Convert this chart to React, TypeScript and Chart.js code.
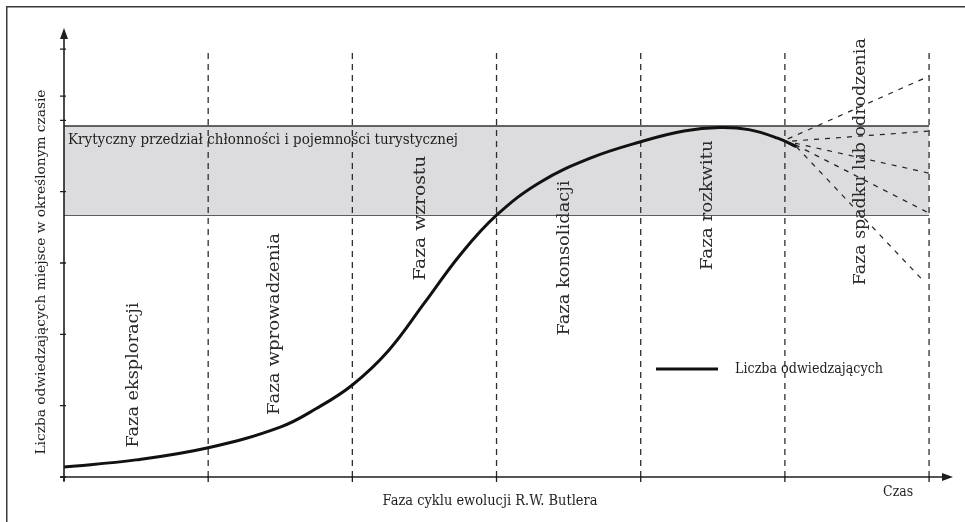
import React, { useEffect, useRef } from "react";
import { Chart, registerables } from "chart.js";

Chart.register(...registerables);

// ---- data ----
const phaseNames = [
  "Faza eksploracji",
  "Faza wprowadzenia",
  "Faza wzrostu",
  "Faza konsolidacji",
  "Faza rozkwitu",
  "Faza spadku lub odrodzenia",
];
const phaseBoundaries = [1, 2, 3, 4, 5, 6];
const yTicks = [0, 1, 2, 3, 4, 5, 5.34, 6];
const xTicks = [0, 1, 2, 3, 4, 5, 6];
const curveX = [0, 0.5, 1.0, 1.5, 1.75, 2.0, 2.25, 2.5, 2.75, 3.0, 3.3, 3.65, 4.0, 4.3, 4.55, 4.75, 4.95, 5.08];
const curveY = [0.14, 0.24, 0.41, 0.7, 0.96, 1.29, 1.77, 2.44, 3.12, 3.67, 4.13, 4.47, 4.7, 4.85, 4.9, 4.87, 4.75, 4.63];
const bandTop = 4.92;
const bandBottom = 3.67;
const fanStartX = [5.02, 5.05, 5.07, 5.07, 5.08];
const fanStartY = [4.74, 4.71, 4.68, 4.66, 4.63];
const fanEndX = [6.0, 6.0, 6.0, 6.0, 5.97];
const fanEndY = [5.62, 4.85, 4.26, 3.7, 2.73];
const bandLabel = "Krytyczny przedział chłonności i pojemności turystycznej";
const yTitle = "Liczba odwiedzających miejsce w określonym czasie";
const xTitle = "Faza cyklu ewolucji R.W. Butlera";
const xEndLabel = "Czas";
const seriesName = "Liczba odwiedzających";

// ---- layout (label anchors in data units, lengths in px) ----
const phaseLabelPos = [
  { x: 0.486, y: 1.43, len: 145 },
  { x: 1.464, y: 2.145, len: 182 },
  { x: 2.476, y: 3.63, len: 125 },
  { x: 3.475, y: 3.07, len: 155 },
  { x: 4.467, y: 3.81, len: 130 },
  { x: 5.528, y: 4.42, len: 247 },
];

const INK = "#1e1e1e";
const SERIF = '"DejaVu Serif", "Liberation Serif", serif';

function fitText(
  ctx: CanvasRenderingContext2D,
  text: string,
  x: number,
  y: number,
  width: number,
  size: number,
  align: CanvasTextAlign,
  rot: number,
  color = INK
) {
  ctx.save();
  ctx.font = `${size}px ${SERIF}`;
  const w = ctx.measureText(text).width;
  ctx.translate(x, y);
  ctx.rotate(rot);
  ctx.scale(width / w, 1);
  ctx.fillStyle = color;
  ctx.textAlign = align;
  ctx.textBaseline = "middle";
  ctx.fillText(text, 0, 0);
  ctx.restore();
}

const decorPlugin = {
  id: "decor",
  afterDatasetsDraw(chart: any) {
    const ctx: CanvasRenderingContext2D = chart.ctx;
    const xs = chart.scales.x;
    const ys = chart.scales.y;
    const X = (v: number) => xs.getPixelForValue(v);
    const Y = (v: number) => ys.getPixelForValue(v);
    const x0 = X(0);
    const y0 = Y(0);
    const yTop = Y(ys.max);
    const xEnd = X(xs.max);

    ctx.save();
    // outer frame
    ctx.strokeStyle = "#3a3a3a";
    ctx.lineWidth = 1.5;
    ctx.strokeRect(6.75, 6.75, 1200, 1200);

    // axes
    ctx.strokeStyle = INK;
    ctx.lineWidth = 1.6;
    ctx.beginPath();
    ctx.moveTo(x0, y0 + 4);
    ctx.lineTo(x0, yTop + 8);
    ctx.moveTo(x0 - 4, y0);
    ctx.lineTo(xEnd - 8, y0);
    ctx.stroke();
    ctx.fillStyle = INK;
    ctx.beginPath();
    ctx.moveTo(x0, yTop);
    ctx.lineTo(x0 - 4, yTop + 11);
    ctx.lineTo(x0 + 4, yTop + 11);
    ctx.closePath();
    ctx.fill();
    ctx.beginPath();
    ctx.moveTo(xEnd, y0);
    ctx.lineTo(xEnd - 11, y0 - 4);
    ctx.lineTo(xEnd - 11, y0 + 4);
    ctx.closePath();
    ctx.fill();

    // ticks
    ctx.lineWidth = 1.3;
    ctx.beginPath();
    yTicks.forEach((t) => {
      const py = Y(t);
      ctx.moveTo(x0 - 4, py);
      ctx.lineTo(x0 + 2, py);
    });
    xTicks.forEach((t) => {
      const px = X(t);
      ctx.moveTo(px, y0 - 1);
      ctx.lineTo(px, y0 + 5);
    });
    ctx.stroke();
    ctx.restore();

    // texts
    fitText(ctx, bandLabel, X(0.028), Y(4.72), 390, 14, "left", 0);
    fitText(ctx, yTitle, X(-0.153), Y(2.874), 365, 13, "center", -Math.PI / 2);
    fitText(ctx, xTitle, X(2.955), Y(-0.336), 215, 14, "center", 0);
    fitText(ctx, xEndLabel, X(5.785), Y(-0.21), 30, 14, "center", 0);
    phaseNames.forEach((n, i) => {
      const p = phaseLabelPos[i];
      fitText(ctx, n, X(p.x), Y(p.y), p.len, 17, "center", -Math.PI / 2, "#2a2a2a");
    });

    // legend
    ctx.save();
    ctx.strokeStyle = "#111";
    ctx.lineWidth = 3;
    ctx.beginPath();
    ctx.moveTo(X(4.106), Y(1.514));
    ctx.lineTo(X(4.536), Y(1.514));
    ctx.stroke();
    ctx.restore();
    fitText(ctx, seriesName, X(4.654), Y(1.514), 148, 15, "left", 0);
  },
};

export default function App() {
  const ref = useRef<HTMLCanvasElement | null>(null);
  useEffect(() => {
    if (!ref.current) return;
    const datasets: any[] = [];
    datasets.push({
      data: [
        { x: 0, y: bandTop },
        { x: 6, y: bandTop },
      ],
      borderColor: "#333",
      borderWidth: 1.5,
      backgroundColor: "#dcdcde",
      fill: "+1",
      pointRadius: 0,
      tension: 0,
      order: 10,
    });
    datasets.push({
      data: [
        { x: 0, y: bandBottom },
        { x: 6, y: bandBottom },
      ],
      borderColor: "#333",
      borderWidth: 1.5,
      fill: false,
      pointRadius: 0,
      tension: 0,
      order: 10,
    });
    phaseBoundaries.forEach((b) => {
      datasets.push({
        data: [
          { x: b, y: 0 },
          { x: b, y: 6 },
        ],
        borderColor: "#2e2e2e",
        borderWidth: 1.3,
        borderDash: [6, 5],
        fill: false,
        pointRadius: 0,
        tension: 0,
        order: 8,
      });
    });
    fanEndX.forEach((ex, i) => {
      datasets.push({
        data: [
          { x: fanStartX[i], y: fanStartY[i] },
          { x: ex, y: fanEndY[i] },
        ],
        borderColor: "#222",
        borderWidth: 1.2,
        borderDash: [5, 6],
        fill: false,
        pointRadius: 0,
        tension: 0,
        order: 2,
      });
    });
    datasets.push({
      label: seriesName,
      data: curveX.map((x, i) => ({ x, y: curveY[i] })),
      borderColor: "#111",
      borderWidth: 3,
      fill: false,
      pointRadius: 0,
      tension: 0.4,
      order: 1,
    });

    const chart = new Chart(ref.current, {
      type: "line",
      data: { datasets },
      options: {
        animation: false,
        responsive: false,
        devicePixelRatio: 1,
        events: [],
        layout: { padding: { left: 64, right: 12, top: 28, bottom: 45 } },
        scales: {
          x: { type: "linear", min: 0, max: 6.166, display: false },
          y: { type: "linear", min: 0, max: 6.295, display: false },
        },
        plugins: {
          legend: { display: false },
          tooltip: { enabled: false },
        },
      },
      plugins: [decorPlugin],
    } as any);
    return () => chart.destroy();
  }, []);

  return (
    <div style={{ position: "fixed", left: 0, top: 0, width: 965, height: 522, background: "#fff" }}>
      <canvas ref={ref} width={965} height={522} style={{ display: "block" }} />
    </div>
  );
}
